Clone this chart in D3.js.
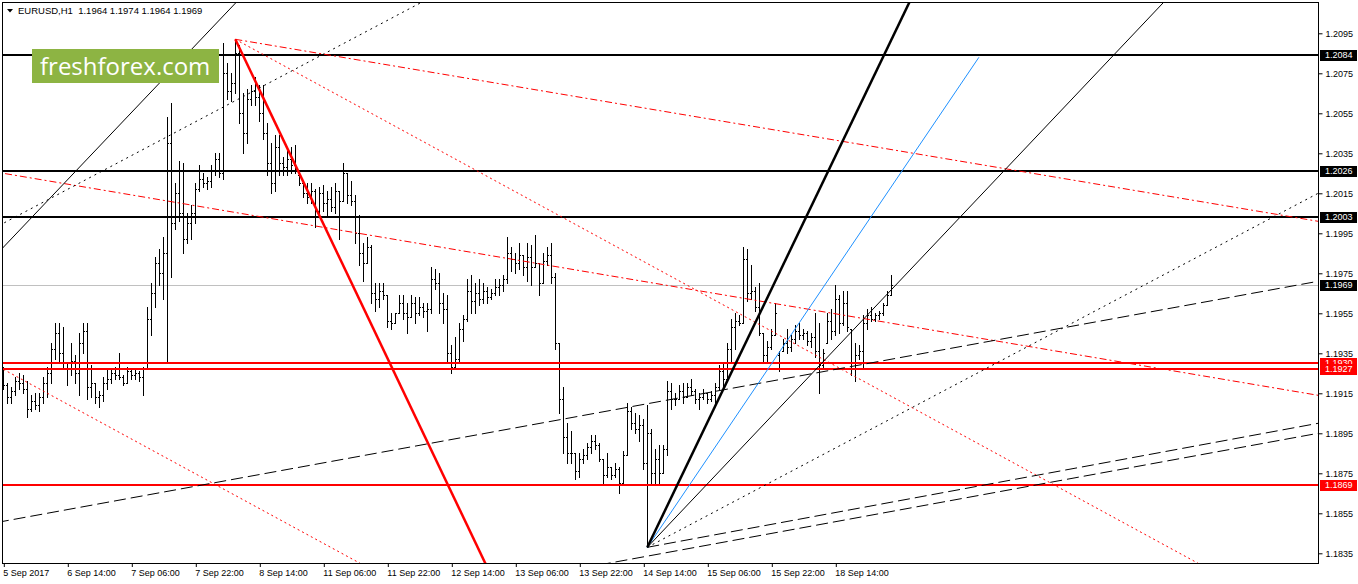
<!DOCTYPE html>
<html>
<head>
<meta charset="utf-8">
<script src="https://cdn.jsdelivr.net/npm/d3@7"></script>
<style>
  body { margin: 0; background: #fff; }
  svg { display: block; font-family: "Liberation Sans", Arial, sans-serif; }
</style>
</head>
<body>
<svg id="chart" width="1358" height="584"></svg>
<script>
// EURUSD H1 bars, [open, high, low, close], one array per trading day
const sep05 = [[1.1925,1.1928,1.1917,1.1919],[1.1919,1.1920,1.1910,1.1913]];
const sep06 = [
  [1.1913,1.1918,1.1910,1.1916],[1.1916,1.1923,1.1914,1.1921],[1.1921,1.1925,1.1917,1.1920],[1.1920,1.1924,1.1915,1.1917],
  [1.1917,1.1921,1.1903,1.1907],[1.1907,1.1914,1.1906,1.1911],[1.1911,1.1915,1.1907,1.1909],[1.1909,1.1915,1.1906,1.1913],
  [1.1913,1.1923,1.1910,1.1920],[1.1920,1.1928,1.1913,1.1925],[1.1925,1.1940,1.1920,1.1937],[1.1937,1.1950,1.1932,1.1945],
  [1.1945,1.1950,1.1930,1.1935],[1.1935,1.1948,1.1928,1.1930],[1.1930,1.1930,1.1919,1.1927],[1.1927,1.1940,1.1924,1.1931],
  [1.1931,1.1934,1.1920,1.1925],[1.1925,1.1945,1.1914,1.1940],[1.1940,1.1950,1.1935,1.1946],[1.1946,1.1950,1.1912,1.1918],
  [1.1918,1.1929,1.1913,1.1920],[1.1920,1.1920,1.1910,1.1913],[1.1913,1.1916,1.1908,1.1914],[1.1914,1.1923,1.1911,1.1920]];
const sep07 = [
  [1.1920,1.1927,1.1917,1.1922],[1.1922,1.1927,1.1920,1.1925],[1.1925,1.1928,1.1922,1.1924],[1.1924,1.1935,1.1922,1.1923],
  [1.1923,1.1924,1.1919,1.1920],[1.1920,1.1928,1.1920,1.1926],[1.1926,1.1927,1.1922,1.1924],[1.1924,1.1927,1.1922,1.1925],
  [1.1925,1.1926,1.1921,1.1923],[1.1923,1.1928,1.1914,1.1927],[1.1927,1.1958,1.1927,1.1952],[1.1952,1.1970,1.1944,1.1965],
  [1.1965,1.1983,1.1958,1.1980],[1.1980,1.1987,1.1969,1.1975],[1.1975,1.1993,1.1962,1.1985],[1.1985,1.2053,1.1930,1.2040],
  [1.2040,1.2060,1.1973,1.2000],[1.2000,1.2020,1.1997,1.2015],[1.2015,1.2031,1.2001,1.2005],[1.2005,1.2030,1.1985,1.1992],
  [1.1992,1.2005,1.1990,1.2000],[1.2000,1.2009,1.1992,1.2005],[1.2005,1.2020,1.2000,1.2017],[1.2017,1.2029,1.2016,1.2022]];
const sep08 = [
  [1.2022,1.2025,1.2018,1.2020],[1.2020,1.2023,1.2017,1.2021],[1.2021,1.2029,1.2018,1.2026],[1.2026,1.2035,1.2024,1.2032],
  [1.2032,1.2035,1.2023,1.2025],[1.2025,1.2090,1.2022,1.2075],[1.2075,1.2080,1.2062,1.2066],[1.2066,1.2075,1.2061,1.2070],
  [1.2070,1.2092,1.2065,1.2085],[1.2085,1.2089,1.2050,1.2055],[1.2055,1.2065,1.2035,1.2045],[1.2045,1.2067,1.2040,1.2062],
  [1.2062,1.2069,1.2059,1.2066],[1.2066,1.2073,1.2059,1.2063],[1.2063,1.2069,1.2051,1.2055],[1.2055,1.2069,1.2042,1.2045],
  [1.2045,1.2050,1.2024,1.2030],[1.2030,1.2040,1.2015,1.2020],[1.2020,1.2044,1.2016,1.2038],[1.2038,1.2044,1.2024,1.2030],
  [1.2030,1.2033,1.2024,1.2028],[1.2028,1.2036,1.2024,1.2032],[1.2032,1.2038,1.2025,1.2029],[1.2029,1.2039,1.2025,1.2027]];
const sep11 = [
  [1.2024,1.2026,1.2019,1.2020],[1.2020,1.2021,1.2013,1.2015],[1.2015,1.2020,1.2010,1.2013],[1.2013,1.2020,1.2010,1.2016],
  [1.2016,1.2017,1.1998,1.2006],[1.2006,1.2018,1.2005,1.2015],[1.2015,1.2019,1.2006,1.2010],[1.2010,1.2016,1.2003,1.2012],
  [1.2012,1.2018,1.2006,1.2008],[1.2008,1.2020,1.2005,1.2016],[1.2016,1.2016,1.1992,1.2011],[1.2011,1.2030,1.2011,1.2025],
  [1.2025,1.2025,1.2010,1.2014],[1.2014,1.2021,1.2009,1.2011],[1.2011,1.2014,1.1990,1.1995],[1.1995,1.2004,1.1979,1.1985],
  [1.1985,1.1990,1.1971,1.1980],[1.1980,1.1993,1.1980,1.1988],[1.1988,1.1989,1.1960,1.1965],[1.1965,1.1970,1.1956,1.1962],
  [1.1962,1.1970,1.1958,1.1966],[1.1966,1.1970,1.1962,1.1964],[1.1964,1.1964,1.1948,1.1951],[1.1951,1.1955,1.1947,1.1950]];
const sep12 = [
  [1.1950,1.1955,1.1950,1.1955],[1.1955,1.1964,1.1955,1.1960],[1.1960,1.1964,1.1952,1.1955],[1.1955,1.1960,1.1945,1.1953],
  [1.1953,1.1964,1.1953,1.1960],[1.1960,1.1963,1.1950,1.1955],[1.1955,1.1963,1.1954,1.1958],[1.1958,1.1960,1.1953,1.1956],
  [1.1956,1.1960,1.1946,1.1957],[1.1957,1.1978,1.1955,1.1972],[1.1972,1.1977,1.1967,1.1970],[1.1970,1.1975,1.1955,1.1960],
  [1.1960,1.1965,1.1950,1.1957],[1.1957,1.1964,1.1931,1.1935],[1.1935,1.1939,1.1925,1.1928],[1.1928,1.1943,1.1928,1.1932],
  [1.1932,1.1950,1.1930,1.1947],[1.1947,1.1954,1.1941,1.1952],[1.1952,1.1972,1.1951,1.1966],[1.1966,1.1974,1.1955,1.1961],
  [1.1961,1.1970,1.1955,1.1965],[1.1965,1.1972,1.1959,1.1962],[1.1962,1.1970,1.1960,1.1966],[1.1966,1.1968,1.1960,1.1963]];
const sep13 = [
  [1.1963,1.1967,1.1962,1.1965],[1.1965,1.1972,1.1964,1.1968],[1.1968,1.1972,1.1964,1.1969],[1.1969,1.1974,1.1966,1.1972],
  [1.1972,1.1993,1.1970,1.1985],[1.1985,1.1988,1.1976,1.1982],[1.1982,1.1985,1.1975,1.1980],[1.1980,1.1990,1.1977,1.1984],
  [1.1984,1.1984,1.1974,1.1978],[1.1978,1.1990,1.1971,1.1983],[1.1983,1.1989,1.1969,1.1978],[1.1978,1.1994,1.1978,1.1980],
  [1.1980,1.1980,1.1964,1.1970],[1.1970,1.1985,1.1970,1.1981],[1.1981,1.1988,1.1979,1.1984],[1.1984,1.1990,1.1970,1.1973],
  [1.1973,1.1975,1.1937,1.1940],[1.1940,1.1940,1.1905,1.1912],[1.1912,1.1918,1.1885,1.1893],[1.1893,1.1900,1.1880,1.1885],
  [1.1885,1.1896,1.1880,1.1885],[1.1885,1.1885,1.1872,1.1876],[1.1876,1.1885,1.1873,1.1882],[1.1882,1.1887,1.1880,1.1884]];
const sep14 = [
  [1.1884,1.1890,1.1882,1.1888],[1.1888,1.1894,1.1885,1.1891],[1.1891,1.1894,1.1887,1.1889],[1.1889,1.1890,1.1881,1.1882],
  [1.1882,1.1882,1.1870,1.1874],[1.1874,1.1885,1.1873,1.1878],[1.1878,1.1878,1.1872,1.1874],[1.1874,1.1880,1.1873,1.1877],
  [1.1877,1.1878,1.1865,1.1870],[1.1870,1.1886,1.1869,1.1884],[1.1884,1.1910,1.1884,1.1906],[1.1906,1.1908,1.1897,1.1900],
  [1.1900,1.1905,1.1895,1.1897],[1.1897,1.1904,1.1891,1.1899],[1.1899,1.1902,1.1877,1.1880],[1.1880,1.1909,1.1838,1.1895],
  [1.1895,1.1897,1.1869,1.1875],[1.1875,1.1887,1.1870,1.1882],[1.1882,1.1889,1.1870,1.1875],[1.1875,1.1889,1.1875,1.1887],
  [1.1887,1.1921,1.1884,1.1916],[1.1916,1.1920,1.1907,1.1912],[1.1912,1.1915,1.1909,1.1912],[1.1912,1.1919,1.1912,1.1916]];
const sep15 = [
  [1.1916,1.1920,1.1910,1.1913],[1.1913,1.1920,1.1913,1.1918],[1.1918,1.1922,1.1914,1.1916],[1.1916,1.1917,1.1910,1.1912],
  [1.1912,1.1915,1.1907,1.1913],[1.1913,1.1917,1.1912,1.1915],[1.1915,1.1915,1.1910,1.1912],[1.1912,1.1916,1.1911,1.1914],
  [1.1914,1.1920,1.1909,1.1918],[1.1918,1.1929,1.1917,1.1926],[1.1926,1.1930,1.1917,1.1922],[1.1922,1.1940,1.1922,1.1937],
  [1.1937,1.1952,1.1930,1.1948],[1.1948,1.1955,1.1937,1.1951],[1.1951,1.1954,1.1949,1.1950],[1.1950,1.1988,1.1950,1.1982],
  [1.1982,1.1987,1.1961,1.1965],[1.1965,1.1979,1.1962,1.1966],[1.1966,1.1968,1.1956,1.1958],[1.1958,1.1970,1.1944,1.1945],
  [1.1945,1.1945,1.1930,1.1934],[1.1934,1.1941,1.1930,1.1938],[1.1938,1.1947,1.1937,1.1944],[1.1944,1.1960,1.1944,1.1955]];
const sep18 = [
  [1.1934,1.1936,1.1926,1.1930],[1.1936,1.1942,1.1936,1.1940],[1.1940,1.1947,1.1935,1.1938],[1.1938,1.1944,1.1936,1.1942],
  [1.1942,1.1949,1.1940,1.1946],[1.1946,1.1950,1.1942,1.1944],[1.1944,1.1947,1.1942,1.1945],[1.1945,1.1946,1.1939,1.1941],
  [1.1941,1.1945,1.1938,1.1943],[1.1943,1.1955,1.1933,1.1936],[1.1936,1.1950,1.1915,1.1929],[1.1929,1.1937,1.1927,1.1935],
  [1.1940,1.1955,1.1940,1.1951],[1.1951,1.1957,1.1942,1.1946],[1.1946,1.1969,1.1944,1.1962],[1.1962,1.1964,1.1945,1.1950],
  [1.1950,1.1966,1.1949,1.1960],[1.1960,1.1966,1.1946,1.1948],[1.1947,1.1947,1.1924,1.1930],[1.1930,1.1940,1.1921,1.1934],
  [1.1934,1.1939,1.1932,1.1936],[1.1936,1.1954,1.1928,1.1950],[1.1950,1.1957,1.1947,1.1954],[1.1954,1.1958,1.1951,1.1952]];
const sep19 = [
  [1.1952,1.1955,1.1951,1.1954],[1.1954,1.1956,1.1952,1.1955],[1.1955,1.1960,1.1954,1.1959],[1.1959,1.1966,1.1959,1.1964],
  [1.1964,1.1974,1.1964,1.1969]];

// axis ticks
const priceTicks = [1.2095,1.2075,1.2055,1.2035,1.2015,1.1995,1.1975,1.1955,1.1935,1.1915,1.1895,1.1875,1.1855,1.1835];
const timeTickBars = [0,16,32,48,64,80,96,112,128,144,160,176,192,208];
const timeTickLabels = ["5 Sep 2017","6 Sep 14:00","7 Sep 06:00","7 Sep 22:00","8 Sep 14:00","11 Sep 06:00","11 Sep 22:00",
  "12 Sep 14:00","13 Sep 06:00","13 Sep 22:00","14 Sep 14:00","15 Sep 06:00","15 Sep 22:00","18 Sep 14:00"];

// horizontal levels
const blackLevels = [1.2084, 1.2026, 1.2003];
const redLevels = [1.1930, 1.1927, 1.1869];
const bidPrice = 1.1969;

// anchor points of the drawn objects, [bar index, price]
const swingHigh = [58, 1.2092];
const swingLow = [161, 1.1838];

const bars = [].concat(sep05, sep06, sep07, sep08, sep11, sep12, sep13, sep14, sep15, sep18, sep19);

const svg = d3.select("#chart");
const x = d3.scaleLinear().domain([0, 328.675]).range([3.3, 1318]);
const y = d3.scaleLinear().domain([1.1835, 1.2095]).range([553.3, 33.3]);
const px = i => Math.round(x(i));
const py = v => Math.round(y(v));

svg.append("defs").append("clipPath").attr("id", "plotClip")
  .append("rect").attr("x", 3).attr("y", 3).attr("width", 1315).attr("height", 560);

const plot = svg.append("g").attr("clip-path", "url(#plotClip)");

// bid line
plot.append("line")
  .attr("x1", 0).attr("x2", 1318)
  .attr("y1", py(bidPrice) + 0.5).attr("y2", py(bidPrice) + 0.5)
  .attr("stroke", "#c0c0c0").attr("stroke-width", 1);

// OHLC bars
const barG = plot.append("g").attr("shape-rendering", "crispEdges").attr("fill", "#000");
bars.forEach((b, i) => {
  const xi = px(i);
  const hi = py(b[1]), lo = py(b[2]);
  barG.append("rect").attr("x", xi).attr("y", hi).attr("width", 1).attr("height", Math.max(1, lo - hi + 1));
  barG.append("rect").attr("x", xi - 1).attr("y", py(b[0])).attr("width", 1).attr("height", 1);
  barG.append("rect").attr("x", xi + 1).attr("y", py(b[3])).attr("width", 1).attr("height", 1);
});

// horizontal levels
const levelG = plot.append("g").attr("shape-rendering", "crispEdges");
blackLevels.forEach(v => {
  levelG.append("line").attr("x1", 0).attr("x2", 1318).attr("y1", py(v)).attr("y2", py(v))
    .attr("stroke", "#000").attr("stroke-width", 2);
});
redLevels.forEach(v => {
  levelG.append("line").attr("x1", 0).attr("x2", 1318).attr("y1", py(v)).attr("y2", py(v))
    .attr("stroke", "#ff0000").attr("stroke-width", 2);
});

// trend lines: mode "ray" extends past p2, "both" extends both ways, "seg" stays a segment
function drawLine(p1, p2, mode, color, width, dash) {
  let x1 = x(p1[0]), y1 = y(p1[1]), x2 = x(p2[0]), y2 = y(p2[1]);
  const dx = x2 - x1, dy = y2 - y1;
  if (mode === "ray" || mode === "both") { x2 = x1 + dx * 20; y2 = y1 + dy * 20; }
  if (mode === "both") { x1 = x1 - dx * 20; y1 = y1 - dy * 20; }
  const l = plot.append("line")
    .attr("x1", x1).attr("y1", y1).attr("x2", x2).attr("y2", y2)
    .attr("stroke", color).attr("stroke-width", width);
  if (dash) l.attr("stroke-dasharray", dash);
}

// red lines from the swing high and their parallels
drawLine(swingHigh, [120.5, 1.1830], "ray", "#ff0000", 2.5);
drawLine(swingHigh, [328.7, 1.2001], "ray", "#ff0000", 1, "7,3,2,3");
drawLine(swingHigh, [298.7, 1.1830], "ray", "#ff0000", 1, "2,3");
drawLine([0, 1.2025], [328.7, 1.1914], "both", "#ff0000", 1, "7,3,2,3");
drawLine([0, 1.1927], [80, 1.1840], "both", "#ff0000", 1, "2,3");

// fan from the swing low and its parallels
drawLine([0, 1.1988], [58, 1.2110], "both", "#000", 1);
drawLine([0, 1.2000], [104.1, 1.2110], "both", "#000", 1, "2,4");
drawLine([0, 1.1851], [328.7, 1.1971], "both", "#000", 1, "12,5");
drawLine([156.7, 1.1832], [328.7, 1.1895], "both", "#000", 1, "12,5");
drawLine(swingLow, [328.7, 1.1900], "ray", "#000", 1, "12,5");
drawLine(swingLow, [328.7, 1.2015], "ray", "#000", 1, "2,4");
drawLine(swingLow, [289.85, 1.2110], "ray", "#000", 1);
drawLine(swingLow, [243.9, 1.2083], "seg", "#1e90ff", 1);
drawLine(swingLow, [226.4, 1.2110], "ray", "#000", 2.5);

// watermark
svg.append("rect").attr("x", 32).attr("y", 49).attr("width", 187).attr("height", 34).attr("fill", "#8db443");
svg.append("text").attr("x", 40).attr("y", 75)
  .style("font-family", "'Open Sans', sans-serif").style("font-size", "24px").attr("fill", "#fff")
  .text("freshforex.com");

// frame
svg.append("rect").attr("x", 2.5).attr("y", 2.5).attr("width", 1315.5).attr("height", 560.5)
  .attr("fill", "none").attr("stroke", "#000").attr("stroke-width", 1).attr("shape-rendering", "crispEdges");

// right price axis
const yAxis = d3.axisRight(y).tickValues(priceTicks).tickFormat(d3.format(".4f")).tickSize(4);
const yAxisG = svg.append("g").attr("transform", "translate(1318.5,0)").call(yAxis);
yAxisG.select(".domain").remove();
yAxisG.selectAll("text").style("font-size", "9px").attr("fill", "#000");
yAxisG.selectAll("line").attr("stroke", "#000");

// bottom time axis
const xAxis = d3.axisBottom(x).tickValues(timeTickBars).tickFormat((d, i) => timeTickLabels[i]).tickSize(4);
const xAxisG = svg.append("g").attr("transform", "translate(0.5,563)").call(xAxis);
xAxisG.select(".domain").remove();
xAxisG.selectAll("text").style("font-size", "9px").attr("fill", "#000").attr("text-anchor", "start").attr("x", -1);
xAxisG.selectAll("line").attr("stroke", "#000");

// level labels on the price axis
function levelLabel(v, bg) {
  const yc = py(v);
  svg.append("rect").attr("x", 1320).attr("y", yc - 5).attr("width", 37).attr("height", 11).attr("fill", bg);
  svg.append("text").attr("x", 1325).attr("y", yc).attr("dy", "0.34em")
    .style("font-size", "9px").attr("fill", "#fff").text(d3.format(".4f")(v));
}
blackLevels.forEach(v => levelLabel(v, "#000"));
levelLabel(bidPrice, "#000");
redLevels.forEach(v => levelLabel(v, "#ff0000"));

// header
svg.append("path").attr("d", "M7,9 L13,9 L10,12.5 Z").attr("fill", "#000");
const last = bars[bars.length - 1];
svg.append("text").attr("x", 18).attr("y", 14).style("font-size", "9.5px").attr("fill", "#000")
  .attr("xml:space", "preserve")
  .text("EURUSD,H1  " + last.map(d3.format(".4f")).join(" "));
</script>
</body>
</html>
